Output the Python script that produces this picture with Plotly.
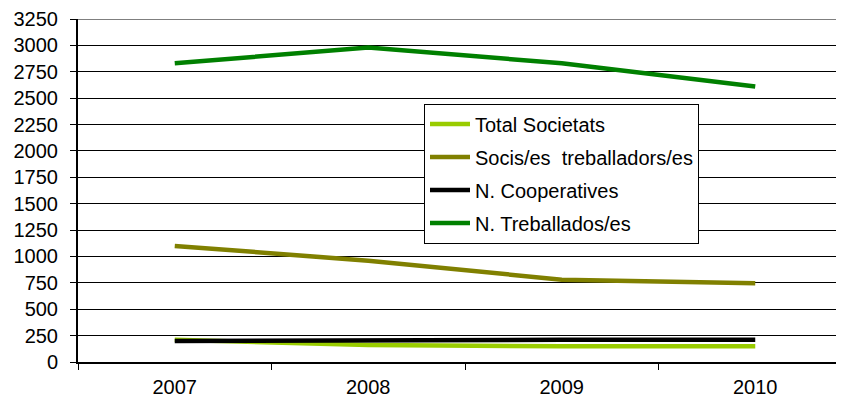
import plotly.graph_objects as go

years = ["2007", "2008", "2009", "2010"]
total_societats = [210, 160, 150, 150]
socis_treballadors = [1100, 960, 780, 745]
n_cooperatives = [200, 210, 210, 212]
n_treballadors = [2830, 2980, 2830, 2610]
y_ticks = [0, 250, 500, 750, 1000, 1250, 1500, 1750, 2000, 2250, 2500, 2750, 3000, 3250]

series = [
    ("Total Societats", total_societats, "#99CC00"),
    ("Socis/es\u00a0 treballadors/es", socis_treballadors, "#808000"),
    ("N. Cooperatives", n_cooperatives, "#000000"),
    ("N. Treballados/es", n_treballadors, "#008000"),
]

fig = go.Figure()
for i, (name, vals, col) in enumerate(series):
    fig.add_trace(go.Scatter(
        x=years, y=vals, name=name, mode="lines",
        line=dict(color=col, width=4.5),
        legendgroup=f"g{i}",
    ))

font = dict(family="Liberation Sans, Arial, sans-serif", size=20, color="#000000")

# page body has an 8px margin, so figure origin sits at (8, 8) in the window
fig.update_layout(
    width=844, height=408,
    margin=dict(l=70, r=0, t=9, b=54),
    paper_bgcolor="white", plot_bgcolor="white",
    font=font,
    showlegend=True,
    legend=dict(
        x=(424 - 78) / 774, y=(362 - 102) / 345,
        xanchor="left", yanchor="top",
        bgcolor="white", bordercolor="#000000", borderwidth=1,
        font=font,
        tracegroupgap=4,
        traceorder="grouped",
        itemwidth=40,
    ),
    xaxis=dict(
        type="category",
        range=[-0.5, 3.5],
        showgrid=False,
        showline=True, linecolor="#000000", linewidth=2,
        ticks="outside", tickson="boundaries", ticklen=6, tickcolor="#000000",
        ticklabelstandoff=6,
        tickfont=font,
        zeroline=False,
    ),
    yaxis=dict(
        range=[y_ticks[0], y_ticks[-1]],
        tickvals=y_ticks,
        showgrid=True, gridcolor="#000000", gridwidth=1,
        showline=True, linecolor="#000000", linewidth=2,
        ticks="outside", ticklen=6, tickcolor="#000000",
        ticklabelstandoff=8,
        ticklabeloverflow="allow",
        tickfont=font,
        zeroline=False,
    ),
)
# top gridline at the last tick (plotly drops gridlines lying on the plot edge)
fig.add_hline(y=y_ticks[-1], line=dict(color="#000000", width=1), layer="below")

fig.write_html("out.html")
